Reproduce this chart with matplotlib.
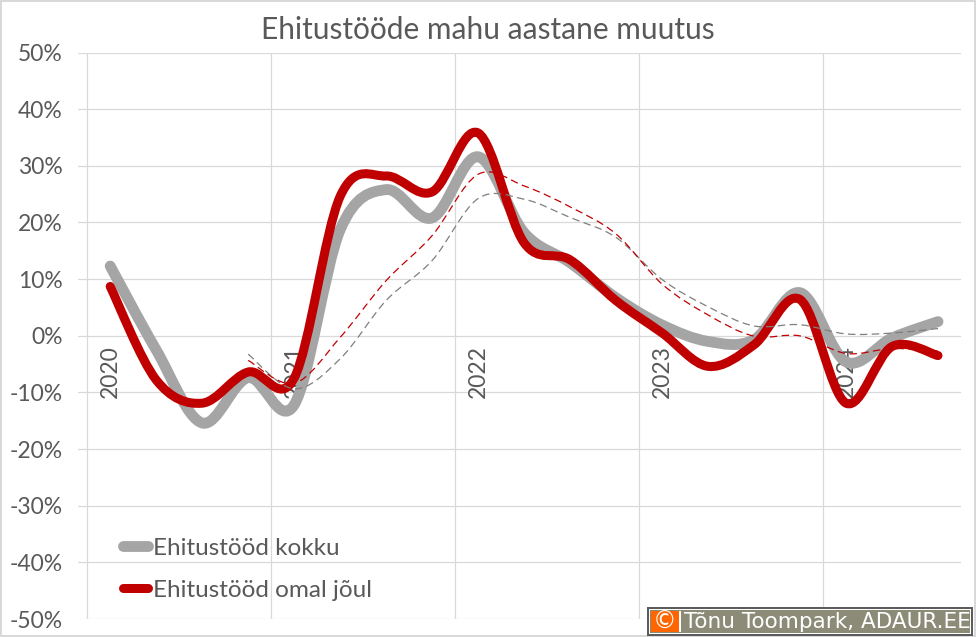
import numpy as np
import pandas as pd
import matplotlib
matplotlib.use('Agg')
import matplotlib.pyplot as plt
from matplotlib.path import Path
from matplotlib.patches import PathPatch, Rectangle
from matplotlib.lines import Line2D
from matplotlib.ticker import FuncFormatter, FixedLocator
import matplotlib.transforms as mtransforms

# quarterly data, 2020 Q1 .. 2024 Q3 (annual change, %)
quarters = ['2020Q1', '2020Q2', '2020Q3', '2020Q4',
            '2021Q1', '2021Q2', '2021Q3', '2021Q4',
            '2022Q1', '2022Q2', '2022Q3', '2022Q4',
            '2023Q1', '2023Q2', '2023Q3', '2023Q4',
            '2024Q1', '2024Q2', '2024Q3']
kokku = [12.3, -2.5, -15.4, -7.4, -12.2, 18.7, 25.8, 20.8, 31.6, 18.2,
         12.9, 6.7, 1.9, -1.0, -0.7, 7.6, -4.6, -0.4, 2.5]
omal_joul = [8.7, -7.8, -11.9, -6.4, -7.5, 24.6, 28.2, 25.4, 35.8, 16.4,
             13.4, 6.2, 0.5, -5.4, -1.6, 6.4, -11.9, -1.9, -3.5]
year_labels = ['2020', '2021', '2022', '2023', '2024']

title = 'Ehitustööde mahu aastane muutus'
names = ['Ehitustööd kokku', 'Ehitustööd omal jõul']

df = pd.DataFrame({'kokku': kokku, 'omal': omal_joul}, index=quarters)
# 4 quarter moving average trendlines
ma = df.rolling(4).mean()

GRAY = '#A5A5A5'
RED = '#C00000'
TXT = '#595959'
GRID = '#D9D9D9'


def smooth_path(x, y, t=1 / 6):
    # excel-like smoothed line (bezier through the points)
    x = list(x)
    y = list(y)
    n = len(x)
    verts = [(x[0], y[0])]
    codes = [Path.MOVETO]
    for i in range(n - 1):
        a = i - 1 if i > 0 else i
        d = i + 2 if i + 2 < n else i + 1
        c1 = (x[i] + (x[i + 1] - x[a]) * t, y[i] + (y[i + 1] - y[a]) * t)
        c2 = (x[i + 1] - (x[d] - x[i]) * t, y[i + 1] - (y[d] - y[i]) * t)
        verts += [c1, c2, (x[i + 1], y[i + 1])]
        codes += [Path.CURVE4] * 3
    return Path(verts, codes)


W, H = 976, 637
fig = plt.figure(figsize=(W / 100, H / 100), dpi=100)
fig.patch.set_edgecolor(GRID)
fig.patch.set_linewidth(1.5)

ax = fig.add_axes([78 / W, 18 / H, (961 - 78) / W, (619 - 52.5) / H])
ax.set_xlim(-0.7, 18.5)
ax.set_ylim(-50, 50)
for s in ax.spines.values():
    s.set_visible(False)

ax.set_yticks(np.arange(-50, 51, 10))
ax.yaxis.set_major_formatter(FuncFormatter(lambda v, p: '%d%%' % v))
ax.tick_params(axis='y', length=0, pad=11, labelsize=16.5, labelcolor=TXT)
ax.xaxis.set_major_locator(FixedLocator([-0.5, 3.5, 7.5, 11.5, 15.5]))
ax.tick_params(axis='x', length=0, labelbottom=False)
ax.grid(True, color=GRID, lw=0.9)
ax.set_axisbelow(True)

for lab in ax.get_yticklabels():
    lab.set_family('Lato')

xs = np.arange(len(quarters))
ax.add_patch(PathPatch(smooth_path(xs, df['kokku']), fill=False, edgecolor=GRAY,
                       lw=7.8, capstyle='round', joinstyle='round', zorder=3))
ax.add_patch(PathPatch(smooth_path(xs, df['omal']), fill=False, edgecolor=RED,
                       lw=6.5, capstyle='round', joinstyle='round', zorder=4))

m = ma['kokku'].notna().values
ax.add_patch(PathPatch(smooth_path(xs[m], ma['kokku'][m]), fill=False, edgecolor='#7F7F7F',
                       lw=0.9, linestyle=(0, (6, 3.5)), zorder=5))
ax.add_patch(PathPatch(smooth_path(xs[m], ma['omal'][m]), fill=False, edgecolor=RED,
                       lw=0.9, linestyle=(0, (6, 3.5)), zorder=5))

# year labels under the 0% line
off = mtransforms.offset_copy(ax.transData, fig=fig, x=0, y=-9, units='dots')
for k, yl in enumerate(year_labels):
    ax.text(4 * k, 0, yl, rotation=90, ha='center', va='top', transform=off,
            fontsize=16.5, color=TXT, family='Lato', zorder=2)

fig.text(0.5, 1 - 30 / H, title, fontsize=21.5, color=TXT, family='Lato',
         ha='center', va='center')

handles = [Line2D([], [], color=GRAY, lw=7.8, solid_capstyle='round'),
           Line2D([], [], color=RED, lw=6.5, solid_capstyle='round')]
leg = ax.legend(handles, names, loc='lower left', bbox_to_anchor=(0.026, -0.006),
                frameon=False, handlelength=1.05, handletextpad=0.2,
                labelspacing=0.85, prop={'family': 'Lato', 'size': 17.5})
for t in leg.get_texts():
    t.set_color(TXT)


# copyright box (pixel coords from top left)
def box(x0, y0, x1, y1, **kw):
    fig.patches.append(Rectangle((x0 / W, 1 - y1 / H), (x1 - x0) / W, (y1 - y0) / H,
                                 transform=fig.transFigure, figure=fig, **kw))


box(647, 607, 973, 636, facecolor='#5C5C5C', edgecolor='none', zorder=10)
box(649, 609, 971, 634, facecolor='white', edgecolor='none', zorder=11)
box(650, 610, 970, 633, facecolor='#8B8B78', edgecolor='none', zorder=12)
box(651, 611, 679, 632, facecolor='#FF6600', edgecolor='none', zorder=13)
box(679, 611, 681, 632, facecolor='white', edgecolor='none', zorder=13)
fig.text(665 / W, 1 - 621.5 / H, '©', color='white', fontsize=17, ha='center', va='center',
         family='DejaVu Sans', zorder=14)
fig.text(684 / W, 1 - 622 / H, 'Tõnu Toompark, ADAUR.EE', color='white', fontsize=15.5,
         ha='left', va='center', family='DejaVu Sans', zorder=14)

fig.savefig('out.png', dpi=100)
